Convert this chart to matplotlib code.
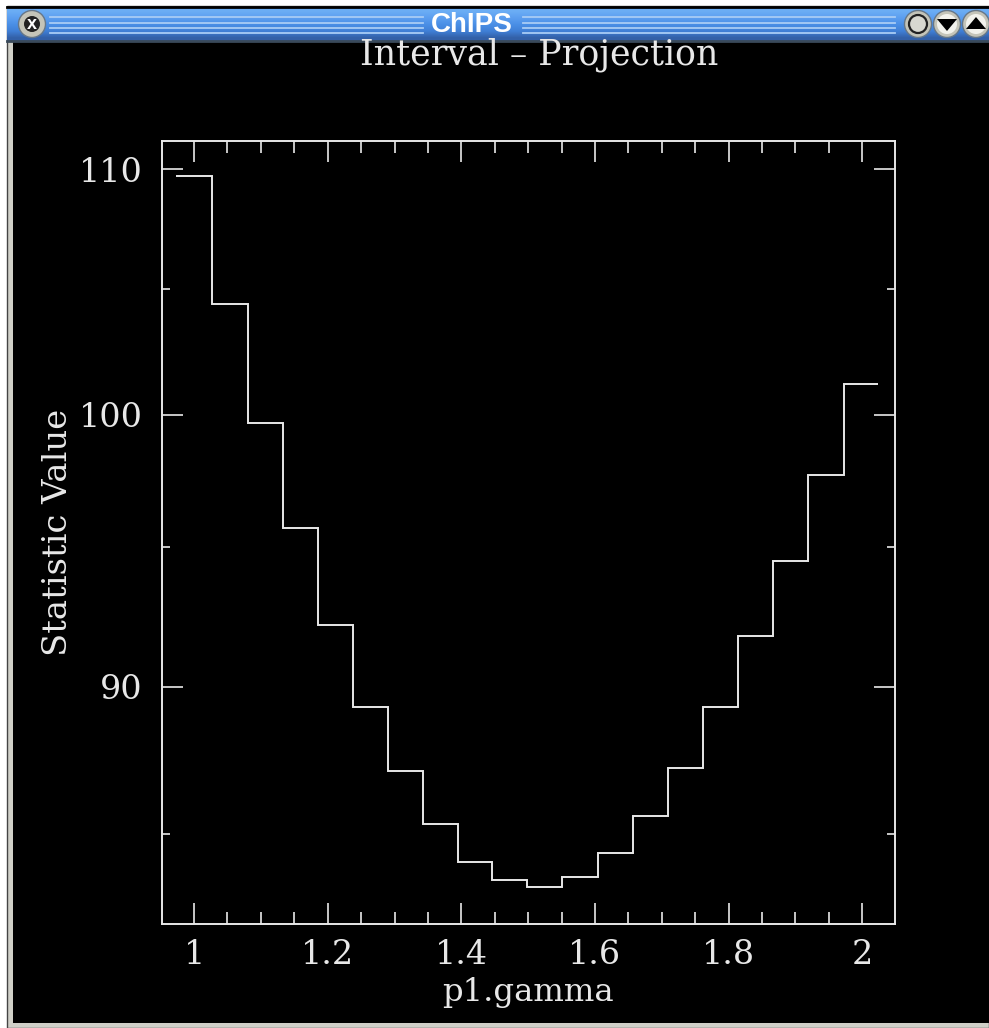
import matplotlib
matplotlib.use('Agg')
import matplotlib.pyplot as plt
import numpy as np
from matplotlib.patches import Circle, Rectangle, Polygon

gamma_edges = [0.973, 1.027, 1.081, 1.133, 1.186, 1.238, 1.290, 1.343, 1.395, 1.446, 1.499,
               1.551, 1.605, 1.657, 1.710, 1.762, 1.814, 1.867, 1.919, 1.972, 2.024]
stat_values = [109.7, 104.4, 99.7, 95.7, 92.2, 89.3, 87.1, 85.36, 84.1, 83.5, 83.3,
               83.6, 84.4, 85.6, 87.2, 89.3, 91.8, 94.5, 97.7, 101.2]
x_ticks = [1, 1.2, 1.4, 1.6, 1.8, 2]
x_labels = ['1', '1.2', '1.4', '1.6', '1.8', '2']
x_minor = [1.05, 1.1, 1.15, 1.25, 1.3, 1.35, 1.45, 1.5, 1.55, 1.65, 1.7, 1.75, 1.85, 1.9, 1.95]
y_ticks = [90, 100, 110]
y_labels = ['90', '100', '110']
y_minor = [85, 95, 105]

plt.rcParams['font.family'] = ['DejaVu Serif']
fg = '#e8e8e8'

fig = plt.figure(figsize=(9.89, 10.28), dpi=100, facecolor='white')

# window frame, in image pixels
chrome = fig.add_axes([0, 0, 1, 1])
chrome.set_xlim(0, 989)
chrome.set_ylim(1028, 0)
chrome.axis('off')
chrome.add_patch(Rectangle((7, 6), 982, 1022, fc='#d0d0c8', ec='#444444', lw=1))
chrome.add_patch(Rectangle((13, 41), 976, 982, fc='black', ec='none'))

grad = np.array([[0.42, 0.68, 0.96], [0.36, 0.62, 0.94], [0.29, 0.56, 0.90], [0.25, 0.50, 0.84], [0.20, 0.38, 0.66]])
grad = grad[:, None, :]
chrome.imshow(grad, extent=(7, 989, 41, 8), aspect='auto', interpolation='bilinear', zorder=2)
chrome.set_xlim(0, 989)
chrome.set_ylim(1028, 0)
chrome.plot([7, 989], [7, 7], color='black', lw=2, zorder=3)
chrome.plot([7, 989], [41, 41], color='#3a4a5a', lw=2, zorder=3)
for yy in [17, 23, 28, 33]:
    chrome.plot([50, 423], [yy, yy], color='#a8ccf5', lw=1.3, zorder=3)
    chrome.plot([523, 895], [yy, yy], color='#a8ccf5', lw=1.3, zorder=3)
chrome.text(472, 25, 'ChIPS', color='white', fontsize=20, fontweight='bold', family='Liberation Sans',
            ha='center', va='center', zorder=4)

for cx in [32, 918, 947, 976]:
    chrome.add_patch(Circle((cx, 24), 13.5, fc='#c4c4b8', ec='#667788', lw=1, zorder=3))
chrome.add_patch(Circle((32, 24), 8, fc='#222222', ec='none', zorder=4))
chrome.text(32, 24.5, 'x', color='white', fontsize=13, fontweight='bold', family='Liberation Sans',
            ha='center', va='center', zorder=5)
chrome.add_patch(Circle((918, 24), 9, fc='#d8d8d0', ec='#222222', lw=1.6, zorder=4))
chrome.add_patch(Circle((947, 24), 10, fc='#f2f2ec', ec='none', zorder=4))
chrome.add_patch(Circle((976, 24), 10, fc='#f2f2ec', ec='none', zorder=4))
chrome.add_patch(Polygon([[937, 19], [957, 19], [947, 31]], fc='black', zorder=5))
chrome.add_patch(Polygon([[966, 29], [986, 29], [976, 17]], fc='black', zorder=5))

# plot area
ax = fig.add_axes([162 / 989, 1 - 924 / 1028, 733 / 989, 783 / 1028])
ax.set_facecolor('black')
ax.stairs(stat_values, gamma_edges, color=fg, lw=1.4, baseline=None)
ax.set_yscale('log')
ax.set_xlim(0.952, 2.049)
ax.set_ylim(82.1, 111.2)

ax.set_xticks(x_ticks)
ax.set_xticklabels(x_labels)
ax.set_xticks(x_minor, minor=True)
ax.set_yticks(y_ticks)
ax.set_yticklabels(y_labels)
ax.set_yticks(y_minor, minor=True)
ax.set_yticklabels([], minor=True)

ax.tick_params(which='major', direction='in', length=15, width=1.2, color=fg, top=True, right=True,
               labelcolor=fg, labelsize=24)
ax.tick_params(axis='x', which='minor', direction='in', length=8.5, width=1.2, color=fg, top=True)
ax.tick_params(axis='y', which='minor', direction='in', length=6, width=1.2, color=fg, right=True)
ax.tick_params(axis='x', which='major', pad=11)
ax.tick_params(axis='y', which='major', pad=14)
for s in ax.spines.values():
    s.set_color(fg)
    s.set_linewidth(1.4)

fig.text(539 / 989, 1 - 55 / 1028, 'Interval \u2013 Projection', color=fg, fontsize=25, ha='center', va='center')
fig.text(528 / 989, 1 - 993 / 1028, 'p1.gamma', color=fg, fontsize=23.2, ha='center', va='center')
fig.text(58 / 989, 1 - 532 / 1028, 'Statistic Value', color=fg, fontsize=24.4, rotation=90, ha='center', va='center')

fig.savefig('out.png', dpi=100, facecolor='white')
